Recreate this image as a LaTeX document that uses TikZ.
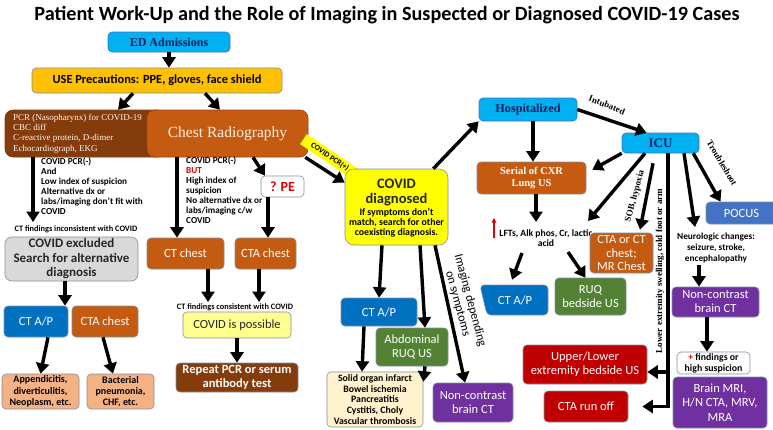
\documentclass[tikz,border=0pt]{standalone}
\usepackage{fontspec}
\setmainfont{Carlito}
\newfontfamily\tnr{Liberation Serif}
\usetikzlibrary{arrows.meta}
\definecolor{skyb}{HTML}{00B0F0}
\definecolor{navy}{HTML}{002060}
\definecolor{gold}{HTML}{FFC000}
\definecolor{dbrown}{HTML}{843C0C}
\definecolor{orng}{HTML}{C55A11}
\definecolor{dblue}{HTML}{0070C0}
\definecolor{pblue}{HTML}{4472C4}
\definecolor{grn}{HTML}{548235}
\definecolor{purp}{HTML}{7030A0}
\definecolor{dred}{HTML}{C00000}
\definecolor{salmon}{HTML}{F4B183}
\definecolor{cream}{HTML}{FFF2CC}
\definecolor{lyel}{HTML}{FFFF8F}
\definecolor{yel}{HTML}{FFFF00}
\definecolor{lgray}{HTML}{D9D9D9}
\definecolor{edge}{HTML}{7F8FA9}
\definecolor{redt}{HTML}{E00000}
\newcommand\bxn[7]{\node[#1, minimum width={(#5-#3)*1pt}, minimum height={(#6-#4)*1pt}] (#2) at ({(#3+#5)/2},{(#4+#6)/2}) {#7};}
\tikzset{
  bx/.style={rounded corners=4pt, inner sep=1pt, align=center, line width=0.6pt, draw=edge},
  cfill/.style={bx, fill=#1, text=white, font=\fontsize{12.5}{14}\selectfont},
  blueb/.style={bx, fill=skyb, draw=pblue, text=navy},
  lbox/.style={bx, inner sep=0pt, text=black, font=\bfseries\fontsize{10}{11.3}\selectfont},
  arr/.style={line width=3.4pt, -{Triangle[length=10.5pt,width=13pt]}},
  sm/.style={font=\bfseries\fontsize{9.2}{10}\selectfont, inner sep=0pt, align=left},
  tlab/.style={font=\tnr\bfseries\fontsize{9}{10}\selectfont, inner sep=0pt}
}
\begin{document}
\begin{tikzpicture}[x=1pt,y=-1pt]
\fill[white] (0,0) rectangle (773,429);
\useasboundingbox (0,0) rectangle (773,429);

\node[font=\bfseries\fontsize{20.2}{22}\selectfont, inner sep=0pt] (title) at (387,15) {Patient Work-Up and the Role of Imaging in Suspected or Diagnosed COVID-19 Cases};

% top
\bxn{blueb, font=\tnr\bfseries\fontsize{12}{13}\selectfont}{ed}{108}{32}{230}{52}{ED Admissions}
\bxn{bx, fill=gold, text=black, font=\bfseries\fontsize{12.4}{14}\selectfont}{use}{32}{68}{282}{93}{USE Precautions: PPE, gloves, face shield}

\bxn{bx, rounded corners=8pt, fill=dbrown, draw=dbrown}{pcr}{5}{110}{165}{157}{}
\node[anchor=west, align=left, inner sep=0pt, text=white!92!orange, font=\tnr\fontsize{9}{10.3}\selectfont] (pcrtxt) at (13,133.5) {PCR (Nasopharynx) for COVID-19\\CBC diff\\C-reactive protein, D-dimer\\Echocardiograph, EKG};
\bxn{bx, rounded corners=8pt, fill=orng, draw=orng!80!black, text=white!90!orange, font=\tnr\fontsize{15.5}{17}\selectfont}{cr}{147}{110}{308}{157}{Chest Radiography}

% left column
\node[sm, anchor=north west] (ltxt) at (41,157.5) {COVID PCR(-)\\And\\Low index of suspicion\\Alternative dx or\\labs/imaging don't fit with\\COVID};
\node[font=\bfseries\fontsize{8.3}{9}\selectfont, inner sep=0pt] (incons) at (76,229) {CT findings inconsistent with COVID};
\bxn{bx, rounded corners=7pt, fill=lgray, text=black!85, font=\bfseries\fontsize{13}{14.5}\selectfont}{excl}{5}{237}{138}{281}{COVID excluded\\Search for alternative\\diagnosis}
\bxn{cfill=dblue}{ctapL}{4}{306}{68}{337}{CT A/P}
\bxn{cfill=orng}{ctaL}{72}{306}{138}{337}{CTA chest}
\bxn{lbox, fill=salmon}{app}{2}{374}{79}{409}{Appendicitis,\\diverticulitis,\\Neoplasm, etc.}
\bxn{lbox, fill=salmon}{bact}{87}{374}{154}{409}{Bacterial\\pneumonia,\\CHF, etc.}

% middle-left column
\node[sm, anchor=north west] (mtxt) at (186,156.5) {COVID PCR(-)\\\textcolor{redt}{BUT}\\High index of\\suspicion\\No alternative dx or\\labs/imaging c/w\\COVID};
\bxn{bx, fill=white, text=redt, font=\bfseries\fontsize{14}{15}\selectfont}{pe}{261}{176}{304}{197}{? PE}
\bxn{cfill=orng}{ctchest}{147}{238}{224}{269}{CT chest}
\bxn{cfill=orng}{ctamid}{235}{238}{296}{269}{CTA chest}
\node[font=\bfseries\fontsize{8.3}{9}\selectfont, inner sep=0pt] (cons) at (235,307) {CT findings consistent with COVID};
\bxn{bx, fill=lyel, text=black!85, font=\fontsize{12.5}{14}\selectfont}{possible}{183}{312}{291}{338}{COVID is possible}
\bxn{bx, fill=dbrown, text=white, font=\bfseries\fontsize{12.5}{14.5}\selectfont}{repeat}{176}{363}{298}{392}{Repeat PCR or serum\\antibody test}

% covid diagnosed
\node[fill=yel, rotate=-34, minimum width=64pt, minimum height=12pt, inner sep=0pt, font=\bfseries\fontsize{7.8}{8}\selectfont] (band) at (330,157) {COVID PCR(+)};
\bxn{bx, rounded corners=9pt, fill=yel}{dx}{345}{169}{448}{245}{}
\node[font=\bfseries\fontsize{14.5}{15}\selectfont, align=center, inner sep=0pt, text=black!85] (dxt) at (396.5,192.5) {COVID\\diagnosed};
\node[font=\bfseries\fontsize{9.8}{10}\selectfont, align=center, inner sep=0pt] (dxs) at (396.5,223) {If symptoms don't\\match, search for other\\coexisting diagnosis.};
\bxn{cfill=dblue}{ctapM}{341}{298}{417}{326}{CT A/P}
\bxn{cfill=grn}{ruqM}{376}{328}{448}{366}{Abdominal\\RUQ US}
\bxn{lbox, fill=cream, font=\bfseries\fontsize{9.8}{10.8}\selectfont}{solid}{327}{372}{423}{427}{Solid organ infarct\\Bowel ischemia\\Pancreatitis\\Cystitis, Choly\\Vascular thrombosis}
\bxn{cfill=purp}{ncctM}{433}{383}{513}{422}{Non-contrast\\brain CT}
\node[rotate=-75, align=center, inner sep=0pt, font=\fontsize{12.3}{12.8}\selectfont] (imgd) at (464,302) {Imaging depending\\on symptoms};

% right part
\bxn{blueb, font=\tnr\bfseries\fontsize{12.2}{14}\selectfont}{hosp}{479}{98}{577}{121}{Hospitalized}
\bxn{blueb, font=\tnr\bfseries\fontsize{13}{14}\selectfont}{icu}{622}{133}{699}{153}{ICU}
\bxn{bx, fill=orng, text=white, font=\tnr\bfseries\fontsize{10.5}{12.5}\selectfont}{serial}{477}{162}{586}{194}{Serial of CXR\\Lung US}
\node[font=\bfseries\fontsize{9.6}{10}\selectfont, align=center, inner sep=0pt] (lft) at (546,238) {LFTs, Alk phos, Cr, lactic\\acid};
\path[fill=dblue, draw=edge, line width=0.6pt, rounded corners=4pt] (480,285) -- (548,285) -- (548,315) -- (487,315) -- cycle;
\node[minimum width=70pt, minimum height=30pt, inner sep=0pt, text=white, font=\fontsize{12.5}{14}\selectfont] (ctapR) at (515,300) {CT A/P};
\bxn{cfill=grn}{ruqR}{555}{278}{626}{315}{RUQ\\bedside US}
\bxn{cfill=orng, font=\fontsize{12.5}{13.5}\selectfont}{ctact}{590}{233}{653}{273}{CTA or CT\\chest;\\MR Chest}
\bxn{cfill=dred}{upper}{523}{345}{647}{384}{Upper/Lower\\extremity bedside US}
\bxn{cfill=dred}{runoff}{544}{391}{628}{422}{CTA run off}
\bxn{cfill=pblue}{pocus}{706}{202}{777}{224}{POCUS}
\node[font=\bfseries\fontsize{9.3}{11}\selectfont, align=center, inner sep=0pt] (neuro) at (716,248) {Neurologic changes:\\seizure, stroke,\\encephalopathy};
\bxn{cfill=purp}{ncctR}{672}{287}{759}{317}{Non-contrast\\brain CT}
\bxn{lbox, fill=white, font=\bfseries\fontsize{9.8}{10.8}\selectfont}{find}{677}{352}{750}{374}{\textcolor{redt}{+} findings or\\high suspicion}
\bxn{cfill=purp, font=\fontsize{12.5}{14.5}\selectfont}{mri}{673}{377}{767}{428}{Brain MRI,\\H/N CTA, MRV,\\MRA}

% edge labels
\node[tlab, rotate=-22] (intub) at (607,105) {Intubated};
\node[tlab, rotate=75] (sob) at (635,196) {SOB, hypoxia};
\node[tlab, rotate=-59] (trbl) at (722,163) {Troubleshoot};
\node[tlab, rotate=90] (lowx) at (660,271) {Lower extremity swelling, cold foot or arm};

% free ends
\coordinate (c1) at (33,222);
\coordinate (c2) at (208,302);
\coordinate (c3) at (259,302);
\coordinate (c4) at (536,222);
\coordinate (c5) at (588,221);
\coordinate (c6) at (522,253);
\coordinate (c7) at (568,252);
\coordinate (c8) at (695,227);
\coordinate (c9) at (699,265);
\coordinate (vj) at (668,372);
\coordinate (ra1) at (494,238);
\coordinate (ra2) at (494,218);

% arrows
\draw[arr] (ed.south) -- (ed.south |- use.north);
\draw[arr] ([xshift=-24]use.south) -- ([xshift=33]pcr.north);
\draw[arr] ([xshift=48]use.south) -- ([xshift=-7.5]cr.north);
\draw[arr] ([xshift=-52]pcr.south) -- (c1);
\draw[arr] ([xshift=-6.5]excl.south) -- ([xshift=29]ctapL.north);
\draw[arr] ([xshift=12]ctapL.south) -- (app.north);
\draw[arr] ([xshift=-2]ctaL.south) -- ([xshift=-7.5]bact.north);
\draw[arr] ([xshift=-50.5]cr.south) -- ([xshift=-8.5]ctchest.north);
\draw[arr] ([xshift=25.5]cr.south) -- ([xshift=-17.5]pe.north);
\draw[arr] ([xshift=-14.5]pe.south) -- ([xshift=2.5]ctamid.north);
\draw[arr] ([xshift=22.5]ctchest.south) -- (c2);
\draw[arr] ([xshift=-6.5]ctamid.south) -- (c3);
\draw[arr] (possible.south) -- (possible.south |- repeat.north);
\draw[arr] ([xshift=-3]cr.south east) -- ([yshift=-14]dx.north west);
\draw[arr] ([xshift=-15]dx.north east) -- (hosp.south west);
\draw[arr] (hosp.east) -- ([xshift=-14]icu.north);
\draw[arr] ([xshift=5]hosp.south) -- ([xshift=1.5]serial.north);
\draw[arr] (icu.south west) -- ([xshift=6,yshift=-8]serial.north east);
\draw[arr] ([xshift=4.5]serial.south) -- (c4);
\draw[arr] ([xshift=-15.5]icu.south) -- (c5);
\draw[arr] (c6) -- ([xshift=-3,yshift=5]ctapR.north);
\draw[arr] (c7) -- ([xshift=-5]ruqR.north);
\draw[arr] ([xshift=-7.5,yshift=-10]icu.south) -- ([xshift=18.5,yshift=3]ctact.north);
\draw[arr] ([xshift=7.5]icu.south) |- ([xshift=14]runoff.east);
\draw[arr] (vj) -- ([yshift=-7.5]upper.east);
\draw[arr] ([xshift=23.5]icu.south) -- (c8);
\draw[arr] ([xshift=-6]icu.south east) -- ([xshift=-21]pocus.north);
\draw[arr] (c9) -- ([xshift=-16.5]ncctR.north);
\draw[arr] ([xshift=-8.5]ncctR.south) -- ([xshift=-6.5]find.north);
\draw[arr] ([xshift=-14.5]dx.south) -- (ctapM.north);
\draw[arr] ([xshift=23.5]dx.south) -- ([xshift=13]ruqM.north);
\draw[arr] ([xshift=38.5]dx.south) -- ([xshift=-8]ncctM.north);
\draw[arr] ([xshift=-15]ctapM.south) -- ([xshift=-13]solid.north);
\draw[arr] ([xshift=13]ruqM.south) -- ([yshift=-10]solid.north east);
\draw[redt, line width=1.3pt, -{Triangle[length=4.5pt,width=4.5pt]}] (ra1) -- (ra2);
\end{tikzpicture}
\end{document}
